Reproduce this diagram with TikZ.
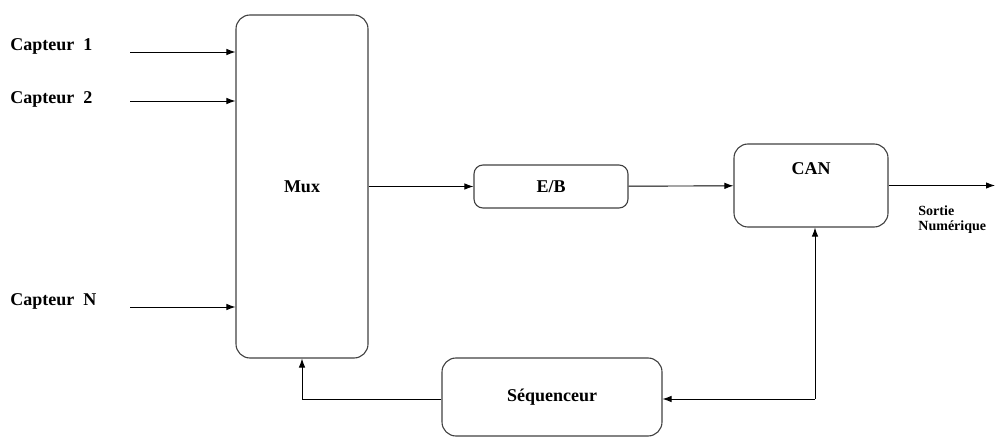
\documentclass[tikz,border=0pt]{standalone}
\usepackage{fontspec}
\setmainfont{Liberation Serif}
\usetikzlibrary{positioning,arrows.meta}

\begin{document}
\begin{tikzpicture}[x=1pt,y=-1pt,>={Latex[length=9pt,width=6.5pt]},line width=0.9pt,
    bloc/.style={draw=black!75,line width=1.1pt,rounded corners=14pt,font=\bfseries\fontsize{18}{21}\selectfont},
    lbl/.style={font=\bfseries\fontsize{18}{21}\selectfont,anchor=west,inner sep=0pt}]
    \useasboundingbox (0,0) rectangle (1001,438);
    \node[bloc,minimum width=132pt,minimum height=343pt] (mux) at (302,186.5) {Mux};
    \node[bloc,minimum width=154pt,minimum height=43pt,rounded corners=9pt] (eb) at (551,186.5) {E/B};
    \node[bloc,minimum width=154pt,minimum height=83pt] (can) at (811,185.5) {};
    \node[font=\bfseries\fontsize{18}{21}\selectfont] (canl) at (811,169) {CAN};
    \node[bloc,minimum width=220pt,minimum height=78pt] (seq) at (552,397) {Séquenceur};

    \node[lbl] (cap1) at (10,46) {Capteur\ \ 1};
    \node[lbl] (cap2) at (10,99) {Capteur\ \ 2};
    \node[lbl] (capn) at (10,301) {Capteur\ \ N};
    \coordinate (c1) at (130,52);
    \coordinate (c2) at (130,101);
    \coordinate (cn) at (130,307);
    \draw[->] (c1) -- (c1 -| mux.west);
    \draw[->] (c2) -- (c2 -| mux.west);
    \draw[->] (cn) -- (cn -| mux.west);

    \draw[->] (mux) -- (eb);
    \draw[->] (eb) -- (can);
    \coordinate (out) at (995,185.5);
    \draw[->] (can) -- (out);
    \node[font=\bfseries\fontsize{14}{15}\selectfont,align=left,anchor=north west,inner sep=0pt] (sortie) at (918,205) {Sortie\\Numérique};

    \coordinate (j) at (815,399);
    \draw[->] (j) -- (j |- can.south);
    \draw[->] (j) -- (j -| seq.east);
    \draw[->] (seq.west |- j) -| (mux.south);
\end{tikzpicture}
\end{document}
